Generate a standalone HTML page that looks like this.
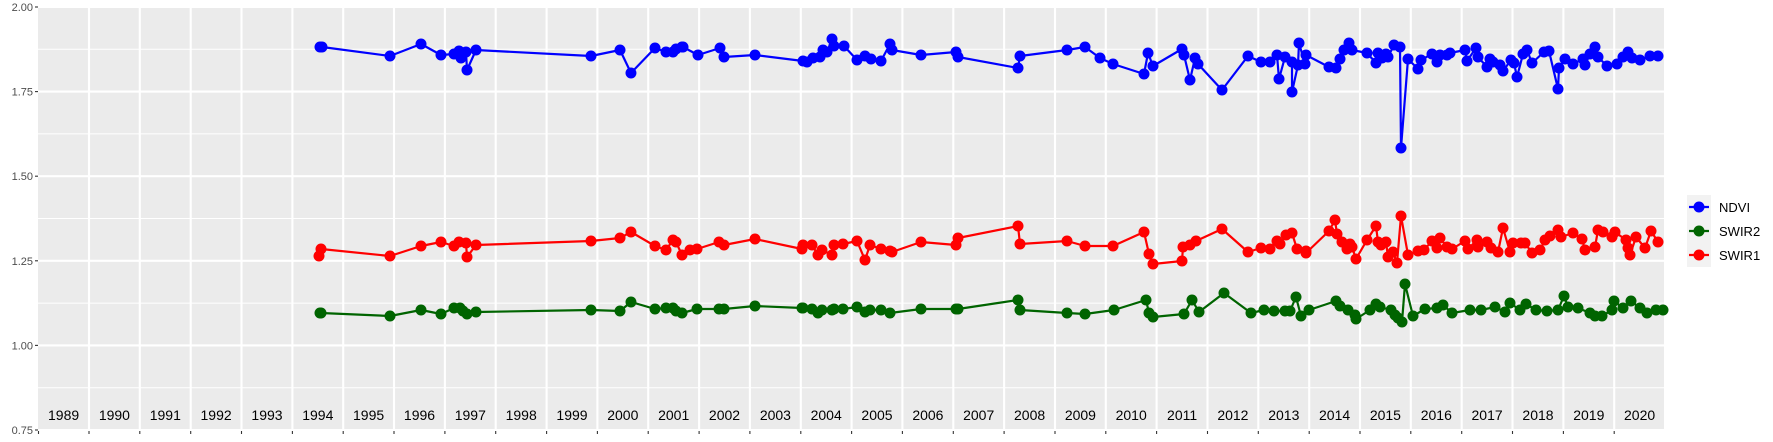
<!DOCTYPE html>
<html><head><meta charset="utf-8"><style>
html,body{margin:0;padding:0;background:#fff}
svg{display:block}
text{font-family:"Liberation Sans",sans-serif}
</style></head><body>
<svg width="1773" height="442" viewBox="0 0 1773 442" xmlns="http://www.w3.org/2000/svg">
<defs>
<marker id="mb" markerUnits="userSpaceOnUse" markerWidth="12" markerHeight="12" refX="6" refY="6"><circle cx="6" cy="6" r="5.5" fill="#0000ff"/></marker>
<marker id="mr" markerUnits="userSpaceOnUse" markerWidth="12" markerHeight="12" refX="6" refY="6"><circle cx="6" cy="6" r="5.5" fill="#ff0000"/></marker>
<marker id="mg" markerUnits="userSpaceOnUse" markerWidth="12" markerHeight="12" refX="6" refY="6"><circle cx="6" cy="6" r="5.5" fill="#006400"/></marker>
</defs>
<rect x="38" y="7" width="1626" height="424" fill="#ebebeb"/>
<g stroke="#fff" stroke-width="1">
<line x1="38" x2="1664" y1="49.3" y2="49.3"/><line x1="38" x2="1664" y1="133.9" y2="133.9"/><line x1="38" x2="1664" y1="218.5" y2="218.5"/><line x1="38" x2="1664" y1="303.1" y2="303.1"/><line x1="38" x2="1664" y1="387.7" y2="387.7"/>
</g>
<g stroke="#fff" stroke-width="2.1">
<line x1="38" x2="1664" y1="7" y2="7"/><line x1="38" x2="1664" y1="91.6" y2="91.6"/><line x1="38" x2="1664" y1="176.2" y2="176.2"/><line x1="38" x2="1664" y1="260.8" y2="260.8"/><line x1="38" x2="1664" y1="345.4" y2="345.4"/><line x1="38" x2="1664" y1="430" y2="430"/>
<line x1="89" x2="89" y1="7" y2="431"/><line x1="139.8" x2="139.8" y1="7" y2="431"/><line x1="190.7" x2="190.7" y1="7" y2="431"/><line x1="241.5" x2="241.5" y1="7" y2="431"/><line x1="292.4" x2="292.4" y1="7" y2="431"/><line x1="343.2" x2="343.2" y1="7" y2="431"/><line x1="394" x2="394" y1="7" y2="431"/><line x1="444.9" x2="444.9" y1="7" y2="431"/><line x1="495.7" x2="495.7" y1="7" y2="431"/><line x1="546.6" x2="546.6" y1="7" y2="431"/><line x1="597.4" x2="597.4" y1="7" y2="431"/><line x1="648.2" x2="648.2" y1="7" y2="431"/><line x1="699.1" x2="699.1" y1="7" y2="431"/><line x1="749.9" x2="749.9" y1="7" y2="431"/><line x1="800.8" x2="800.8" y1="7" y2="431"/><line x1="851.6" x2="851.6" y1="7" y2="431"/><line x1="902.4" x2="902.4" y1="7" y2="431"/><line x1="953.3" x2="953.3" y1="7" y2="431"/><line x1="1004.1" x2="1004.1" y1="7" y2="431"/><line x1="1055" x2="1055" y1="7" y2="431"/><line x1="1105.8" x2="1105.8" y1="7" y2="431"/><line x1="1156.6" x2="1156.6" y1="7" y2="431"/><line x1="1207.5" x2="1207.5" y1="7" y2="431"/><line x1="1258.3" x2="1258.3" y1="7" y2="431"/><line x1="1309.2" x2="1309.2" y1="7" y2="431"/><line x1="1360" x2="1360" y1="7" y2="431"/><line x1="1410.8" x2="1410.8" y1="7" y2="431"/><line x1="1461.7" x2="1461.7" y1="7" y2="431"/><line x1="1512.5" x2="1512.5" y1="7" y2="431"/><line x1="1563.4" x2="1563.4" y1="7" y2="431"/><line x1="1614.2" x2="1614.2" y1="7" y2="431"/>
</g>
<g stroke="#333" stroke-width="1.1">
<line x1="35" x2="38" y1="7" y2="7"/><line x1="35" x2="38" y1="91.6" y2="91.6"/><line x1="35" x2="38" y1="176.2" y2="176.2"/><line x1="35" x2="38" y1="260.8" y2="260.8"/><line x1="35" x2="38" y1="345.4" y2="345.4"/><line x1="35" x2="38" y1="430" y2="430"/>
<line x1="38.5" x2="38.5" y1="431" y2="434"/><line x1="89" x2="89" y1="431" y2="434"/><line x1="139.8" x2="139.8" y1="431" y2="434"/><line x1="190.7" x2="190.7" y1="431" y2="434"/><line x1="241.5" x2="241.5" y1="431" y2="434"/><line x1="292.4" x2="292.4" y1="431" y2="434"/><line x1="343.2" x2="343.2" y1="431" y2="434"/><line x1="394" x2="394" y1="431" y2="434"/><line x1="444.9" x2="444.9" y1="431" y2="434"/><line x1="495.7" x2="495.7" y1="431" y2="434"/><line x1="546.6" x2="546.6" y1="431" y2="434"/><line x1="597.4" x2="597.4" y1="431" y2="434"/><line x1="648.2" x2="648.2" y1="431" y2="434"/><line x1="699.1" x2="699.1" y1="431" y2="434"/><line x1="749.9" x2="749.9" y1="431" y2="434"/><line x1="800.8" x2="800.8" y1="431" y2="434"/><line x1="851.6" x2="851.6" y1="431" y2="434"/><line x1="902.4" x2="902.4" y1="431" y2="434"/><line x1="953.3" x2="953.3" y1="431" y2="434"/><line x1="1004.1" x2="1004.1" y1="431" y2="434"/><line x1="1055" x2="1055" y1="431" y2="434"/><line x1="1105.8" x2="1105.8" y1="431" y2="434"/><line x1="1156.6" x2="1156.6" y1="431" y2="434"/><line x1="1207.5" x2="1207.5" y1="431" y2="434"/><line x1="1258.3" x2="1258.3" y1="431" y2="434"/><line x1="1309.2" x2="1309.2" y1="431" y2="434"/><line x1="1360" x2="1360" y1="431" y2="434"/><line x1="1410.8" x2="1410.8" y1="431" y2="434"/><line x1="1461.7" x2="1461.7" y1="431" y2="434"/><line x1="1512.5" x2="1512.5" y1="431" y2="434"/><line x1="1563.4" x2="1563.4" y1="431" y2="434"/><line x1="1614.2" x2="1614.2" y1="431" y2="434"/>
</g>
<g font-size="11" fill="#4d4d4d" text-anchor="end">
<text x="33" y="11">2.00</text><text x="33" y="95.6">1.75</text><text x="33" y="180.2">1.50</text><text x="33" y="264.8">1.25</text><text x="33" y="349.4">1.00</text><text x="33" y="434">0.75</text>
</g>
<g font-size="14" fill="#000" text-anchor="middle">
<text x="63.6" y="420">1989</text><text x="114.4" y="420">1990</text><text x="165.3" y="420">1991</text><text x="216.1" y="420">1992</text><text x="267" y="420">1993</text><text x="317.8" y="420">1994</text><text x="368.6" y="420">1995</text><text x="419.5" y="420">1996</text><text x="470.3" y="420">1997</text><text x="521.2" y="420">1998</text><text x="572" y="420">1999</text><text x="622.8" y="420">2000</text><text x="673.7" y="420">2001</text><text x="724.5" y="420">2002</text><text x="775.4" y="420">2003</text><text x="826.2" y="420">2004</text><text x="877" y="420">2005</text><text x="927.9" y="420">2006</text><text x="978.7" y="420">2007</text><text x="1029.6" y="420">2008</text><text x="1080.4" y="420">2009</text><text x="1131.2" y="420">2010</text><text x="1182.1" y="420">2011</text><text x="1232.9" y="420">2012</text><text x="1283.8" y="420">2013</text><text x="1334.6" y="420">2014</text><text x="1385.4" y="420">2015</text><text x="1436.3" y="420">2016</text><text x="1487.1" y="420">2017</text><text x="1538" y="420">2018</text><text x="1588.8" y="420">2019</text><text x="1639.6" y="420">2020</text>
</g>
<g fill="none" stroke-width="2.2" stroke-linejoin="round">
<polyline stroke="#006400" marker-start="url(#mg)" marker-mid="url(#mg)" marker-end="url(#mg)" points="320,313 321,313 390,316 421,310 441,314 454,308 460,308 463,311 467,314 476,312 591,310 620,311 631,302 655,309 666,308 673,308 676,311 682,313 697,309 719,309 724,309 755,306 802,308 803,308 812,309 818,313 822,310 832,310 834,309 843,309 857,307 865,312 870,310 881,310 890,313 921,309 956,309 958,309 1018,300 1020,310 1067,313 1085,314 1114,310 1146,300 1149,313 1153,317 1184,314 1192,300 1199,312 1224,293 1251,313 1264,310 1274,311 1285,311 1290,311 1296,297 1301,316 1309,310 1336,301 1340,306 1348,310 1355,315 1356,319 1370,310 1376,304 1380,307 1391,310 1395,315 1398,318 1402,322 1405,284 1413,316 1425,309 1437,308 1443,305 1452,313 1470,310 1481,310 1495,307 1505,312 1510,303 1520,310 1526,304 1536,310 1547,311 1558,310 1564,296 1568,307 1578,308 1590,313 1595,316 1602,316 1612,310 1614,301 1623,308 1631,301 1640,308 1647,313 1656,310 1663,310"/>
<polyline stroke="#ff0000" marker-start="url(#mr)" marker-mid="url(#mr)" marker-end="url(#mr)" points="319,256 321,249 390,256 421,246 441,242 454,246 459,242 466,243 467,257 476,245 591,241 620,238 631,232 655,246 666,250 673,240 676,242 682,255 690,250 697,249 719,242 724,245 755,239 802,249 803,245 812,245 818,255 822,250 832,255 834,245 843,244 857,241 865,260 870,245 881,249 890,251 892,252 921,242 956,245 958,238 1018,226 1020,244 1067,241 1085,246 1113,246 1144,232 1149,254 1153,264 1182,261 1183,247 1190,245 1196,241 1222,229 1248,252 1261,248 1270,249 1277,241 1280,244 1286,235 1292,233 1297,249 1306,251 1306,253 1329,231 1335,220 1337,234 1342,242 1347,249 1350,244 1352,247 1356,259 1367,240 1376,226 1378,242 1381,245 1386,242 1388,257 1393,252 1397,263 1401,216 1408,255 1418,251 1424,250 1432,241 1437,248 1440,238 1447,247 1452,249 1465,241 1468,249 1477,240 1478,247 1487,242 1491,248 1498,252 1503,228 1510,252 1513,243 1521,243 1525,243 1532,253 1540,250 1545,240 1550,236 1558,230 1561,237 1573,233 1582,239 1585,250 1595,247 1598,230 1603,232 1612,237 1615,232 1626,240 1628,248 1630,255 1636,237 1645,248 1651,231 1658,242"/>
<polyline stroke="#0000ff" marker-start="url(#mb)" marker-mid="url(#mb)" marker-end="url(#mb)" points="320,47 322,47 390,56 421,44 441,55 454,54 459,51 461,58 466,52 467,70 476,50 591,56 620,50 631,73 655,48 666,52 673,52 676,49 682,47 683,47 698,55 720,48 724,57 755,55 803,61 807,62 813,58 820,57 823,50 827,52 832,39 834,46 844,46 857,60 865,56 871,59 881,61 890,44 892,50 921,55 956,52 958,57 1018,68 1020,56 1067,50 1085,47 1100,58 1113,64 1144,74 1148,53 1153,66 1182,49 1184,55 1190,80 1195,58 1198,64 1222,90 1248,56 1261,62 1270,62 1277,55 1279,79 1285,57 1292,62 1292,92 1298,65 1299,43 1305,64 1306,55 1329,67 1336,68 1340,59 1344,50 1349,43 1352,50 1367,53 1376,63 1378,53 1382,58 1386,54 1388,57 1394,45 1400,47 1401,148 1408,59 1418,69 1421,60 1432,54 1437,62 1440,55 1447,55 1450,53 1465,50 1467,61 1476,48 1478,57 1487,67 1490,59 1493,62 1500,65 1503,71 1511,60 1514,63 1517,77 1523,54 1527,50 1532,63 1544,52 1549,51 1558,89 1559,68 1565,59 1573,64 1583,59 1585,65 1590,54 1595,47 1598,57 1607,66 1617,64 1623,57 1628,52 1632,58 1640,60 1650,56 1658,56"/>
</g>
<rect x="1687" y="195" width="24" height="72" fill="#f2f2f2"/>
<g stroke-width="2.2">
<line x1="1689" x2="1709" y1="207" y2="207" stroke="#0000ff"/><circle cx="1699" cy="207" r="5.5" fill="#0000ff"/>
<line x1="1689" x2="1709" y1="231" y2="231" stroke="#006400"/><circle cx="1699" cy="231" r="5.5" fill="#006400"/>
<line x1="1689" x2="1709" y1="255" y2="255" stroke="#ff0000"/><circle cx="1699" cy="255" r="5.5" fill="#ff0000"/>
</g>
<g font-size="13" fill="#000">
<text x="1719" y="212">NDVI</text><text x="1719" y="236">SWIR2</text><text x="1719" y="260">SWIR1</text>
</g>
</svg>
</body></html>
